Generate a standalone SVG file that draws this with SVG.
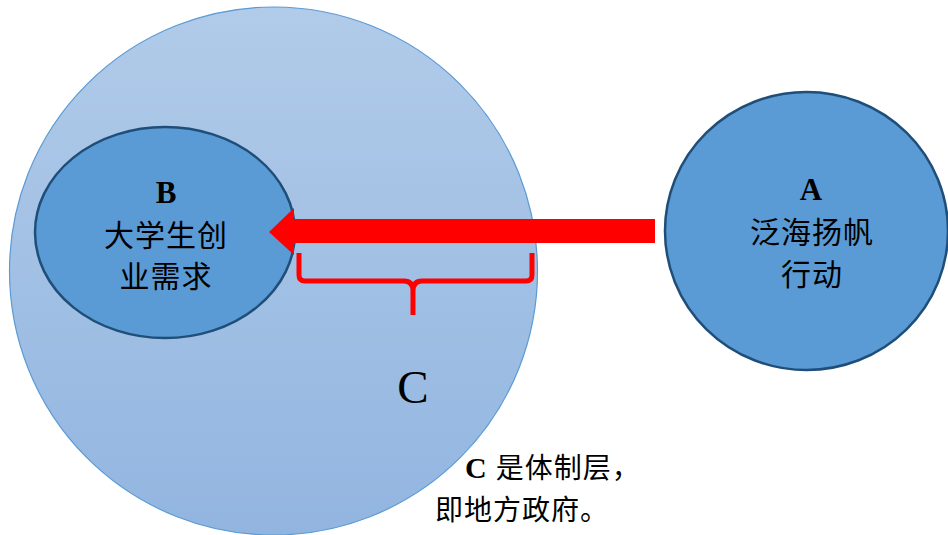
<svg xmlns="http://www.w3.org/2000/svg" width="948" height="535" viewBox="0 0 948 535">
  <defs>
    <linearGradient id="gC" x1="0" y1="0" x2="0" y2="1">
      <stop offset="0" stop-color="#b1cbe9"/>
      <stop offset="1" stop-color="#92b5e0"/>
    </linearGradient>
    <style>
      .node { fill: #5b9bd5; stroke: #1f4e79; stroke-width: 2.5; }
      .lat { font-family: "Liberation Serif", "Noto Sans CJK SC", serif; fill: #000; }
      .cjk { font-family: "Liberation Serif", "Noto Sans CJK SC", serif; fill: #000; font-size: 30px; letter-spacing: 1px; }
      .bold { font-weight: bold; }
    </style>
  </defs>
  <rect width="948" height="535" fill="#ffffff"/>
  <g id="nodeC">
    <circle cx="273.5" cy="271" r="264" fill="url(#gC)" stroke="#5b9bd5" stroke-width="1.2"/>
    <text class="lat" x="413" y="403" font-size="47" text-anchor="middle">C</text>
  </g>
  <g id="nodeB">
    <ellipse class="node" cx="165" cy="232.5" rx="130" ry="105.5"/>
    <text class="lat bold" x="166" y="203" font-size="31" text-anchor="middle">B</text>
    <text class="cjk" x="166" y="246" text-anchor="middle">大学生创</text>
    <text class="cjk" x="166" y="287" text-anchor="middle">业需求</text>
  </g>
  <g id="nodeA">
    <ellipse class="node" cx="806.5" cy="231" rx="141.5" ry="139"/>
    <text class="lat bold" x="811" y="200" font-size="31" text-anchor="middle">A</text>
    <text class="cjk" x="812" y="243" text-anchor="middle">泛海扬帆</text>
    <text class="cjk" x="812" y="285" text-anchor="middle">行动</text>
  </g>
  <g id="connectors">
    <polygon points="655,219 294,219 294,208 269,232 294,255 294,243 655,243" fill="#ff0000"/>
    <path d="M299,253 V275 Q299,281 305,281 H404 Q413,281 413,291 V315 M413,291 Q413,281 422,281 H526 Q532,281 532,275 V253" fill="none" stroke="#ff0000" stroke-width="5" stroke-linejoin="round"/>
  </g>
  <g id="note">
    <text class="cjk" x="465" y="478" style="font-size:28px"><tspan class="bold" style="font-size:30px">C</tspan> 是体制层，</text>
    <text class="cjk" x="435" y="520" style="font-size:28px">即地方政府。</text>
  </g>
</svg>
